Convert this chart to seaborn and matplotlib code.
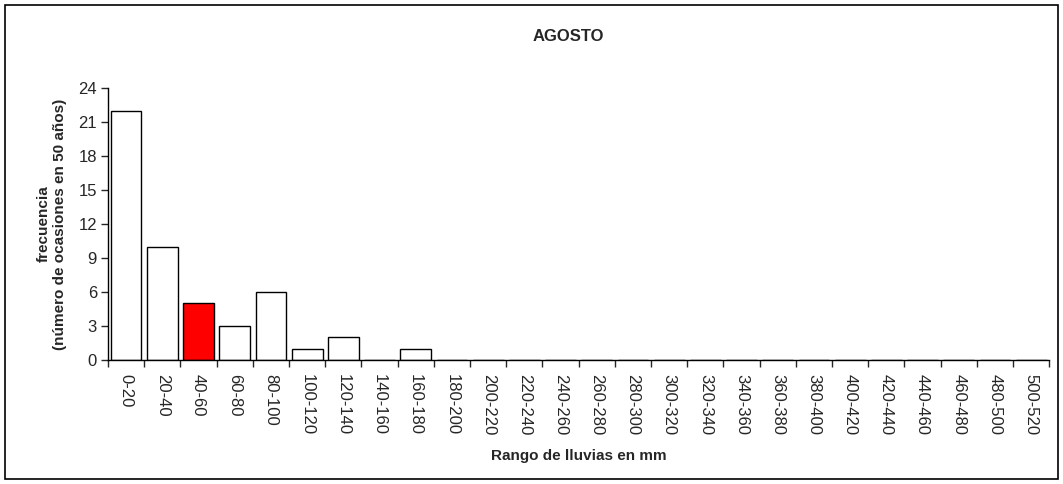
import numpy as np
import pandas as pd
import seaborn as sns
import matplotlib.pyplot as plt
from matplotlib.patches import Rectangle

# Datos
rangos = [f"{i}-{i+20}" for i in range(0, 520, 20)]
frecuencia = [22, 10, 5, 3, 6, 1, 2, 0, 1] + [0] * 17
destacado = "40-60"

df = pd.DataFrame({"rango": rangos, "frecuencia": frecuencia})
df["grupo"] = np.where(df["rango"] == destacado, "sel", "otro")

sns.set_style("white")
plt.rcParams["font.family"] = ["Liberation Sans", "DejaVu Sans"]

fig = plt.figure(figsize=(10.63, 4.84), dpi=100)
ax = fig.add_axes([0.1016, 0.256, 0.8855, 0.562])

sns.barplot(data=df, x="rango", y="frecuencia", hue="grupo",
            palette={"otro": "white", "sel": "#ff0000"}, saturation=1,
            edgecolor="black", linewidth=1, width=0.85,
            dodge=False, legend=False, ax=ax)

ax.set_xlim(-0.5, len(rangos) - 0.5)
ax.set_ylim(0, 24)
ax.set_yticks(range(0, 25, 3))
ax.tick_params(axis="y", labelsize=12, length=5, width=1, direction="out", left=True, pad=3)

ax.set_xticks(range(len(rangos)))
ax.set_xticklabels(rangos, rotation=270, fontsize=12)
ax.tick_params(axis="x", which="major", length=0, pad=10)
ax.set_xticks(np.arange(-0.5, len(rangos)), minor=True)
ax.tick_params(axis="x", which="minor", length=5, width=1, direction="out", bottom=True)

for s in ["top", "right"]:
    ax.spines[s].set_visible(False)
for s in ["left", "bottom"]:
    ax.spines[s].set_color("black")
    ax.spines[s].set_linewidth(1)

ax.set_xlabel("Rango de lluvias en mm", fontsize=11, fontweight="bold", labelpad=10)
ax.set_ylabel("frecuencia\n(número de ocasiones en 50 años)", fontsize=11,
              fontweight="bold", labelpad=8)
fig.text(0.535, 0.925, "AGOSTO", ha="center", va="center",
         fontsize=12, fontweight="bold")

fig.patches.append(Rectangle((0.005, 0.01), 0.99, 0.98, transform=fig.transFigure,
                             fill=False, edgecolor="black", linewidth=1.2))

fig.savefig("out.png", dpi=100)
